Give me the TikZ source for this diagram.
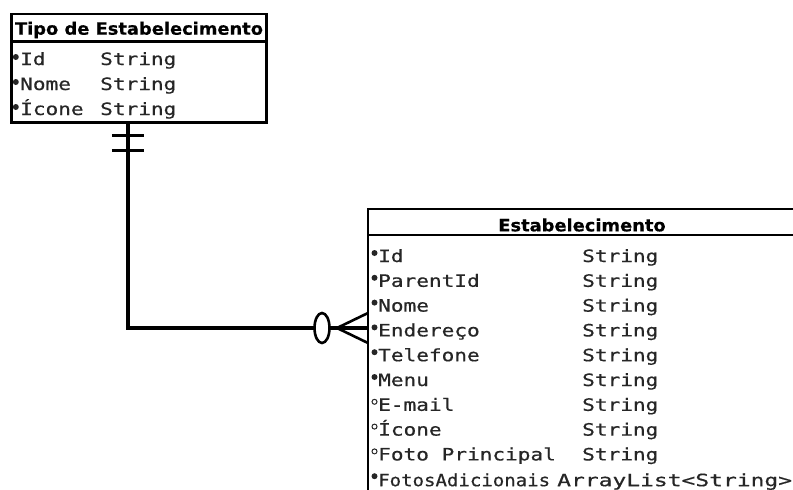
\documentclass[tikz,border=0pt]{standalone}
\usepackage{fontspec}
\newfontfamily\monof{DejaVu Sans Mono}[FakeStretch=1.24,FakeBold=0.6]
\newfontfamily\mononarrow{DejaVu Sans Mono}[FakeStretch=1.12,FakeBold=0.6]
\newfontfamily\monowide{DejaVu Sans Mono}[FakeStretch=1.35,FakeBold=0.6]
\newfontfamily\headf{DejaVu Sans}[FakeStretch=1.05,FakeBold=0.4]
\begin{document}
\begin{tikzpicture}[x=1pt,y=-1pt,
  tbl/.style={draw=black,line width=2.6pt,inner sep=0pt,outer sep=0pt,anchor=north west},
  hdr/.style={font=\headf\bfseries\fontsize{17}{17}\selectfont,inner sep=0pt,text=black},
  fld/.style={font=\monof\fontsize{17}{17}\selectfont,inner sep=0pt,anchor=base west,text=black!85},
  rel/.style={line width=3.2pt,draw=black},
  reqdot/.style={circle,fill=black!85,inner sep=0pt,minimum size=6pt},
  optdot/.style={circle,draw=black!85,line width=1pt,inner sep=0pt,minimum size=5pt}]
\useasboundingbox (0,0) rectangle (793,490);
\clip (0,0) rectangle (793,490);

% ---- Tipo de Estabelecimento
\node[tbl,minimum width=255pt,minimum height=27.7pt] (tipohdr) at (11.7,14) {};
\node[tbl,minimum width=255pt,minimum height=81pt] (tipo) at (11.7,41.7) {};
\node[hdr] (tipotitle) at (139,30) {Tipo de Estabelecimento};
\foreach \n/\t/\y [count=\i] in {Id/String/60,Nome/String/85,Ícone/String/110}{
  \node[reqdot] (tb\i) at (15.8,\y-3) {};
  \node[fld] (tn\i) at (20,\y+5) {\n};
  \node[fld] (tt\i) at (100,\y+5) {\t};
}

% ---- Estabelecimento
\node[tbl,minimum width=440pt,minimum height=26pt] (estabhdr) at (368,209) {};
\node[tbl,minimum width=440pt,minimum height=300pt] (estab) at (368,235) {};
\node[hdr] (estabtitle) at (582,225) {Estabelecimento};
\foreach \n/\k [count=\i] in {Id/reqdot,ParentId/reqdot,Nome/reqdot,Endereço/reqdot,Telefone/reqdot,Menu/reqdot,E-mail/optdot,Ícone/optdot,Foto Principal/optdot,FotosAdicionais/reqdot}{
  \pgfmathsetmacro{\yy}{257+24.8*(\i-1)}
  \node[\k] (eb\i) at (374.5,\yy-4) {};
}
\foreach \n [count=\i] in {Id,ParentId,Nome,Endereço,Telefone,Menu,E-mail,Ícone,Foto Principal}{
  \pgfmathsetmacro{\yy}{257+24.8*(\i-1)}
  \node[fld] (en\i) at (378,\yy+5) {\n};
  \node[fld] (et\i) at (582,\yy+5) {String};
}
\node[fld,font=\mononarrow\fontsize{17}{17}\selectfont] (en10) at (378,486.2) {FotosAdicionais};
\node[fld,font=\monowide\fontsize{17}{17}\selectfont] (et10) at (557,486.2) {ArrayList<String>};

% ---- relationship
\path (tipo.south west) -- (tipo.south east) coordinate[pos=0.456] (a1);
\coordinate (b1) at ([yshift=-93pt]estab.north west);
\draw[rel] (a1) |- (b1);
% one and only one
\draw[rel,line width=2.6pt] ([xshift=-16pt,yshift=-13pt]a1) -- ([xshift=16pt,yshift=-13pt]a1);
\draw[rel,line width=2.6pt] ([xshift=-16pt,yshift=-28pt]a1) -- ([xshift=16pt,yshift=-28pt]a1);
% zero or many
\coordinate (apex) at ([xshift=-31pt]b1);
\draw[rel,line width=2.6pt] (apex) -- ([yshift=15pt]b1);
\draw[rel,line width=2.6pt] (apex) -- ([yshift=-15pt]b1);
\draw[rel,line width=2.6pt,fill=white] ([xshift=-46pt]b1) ellipse [x radius=7.5pt,y radius=15pt];
\end{tikzpicture}
\end{document}
